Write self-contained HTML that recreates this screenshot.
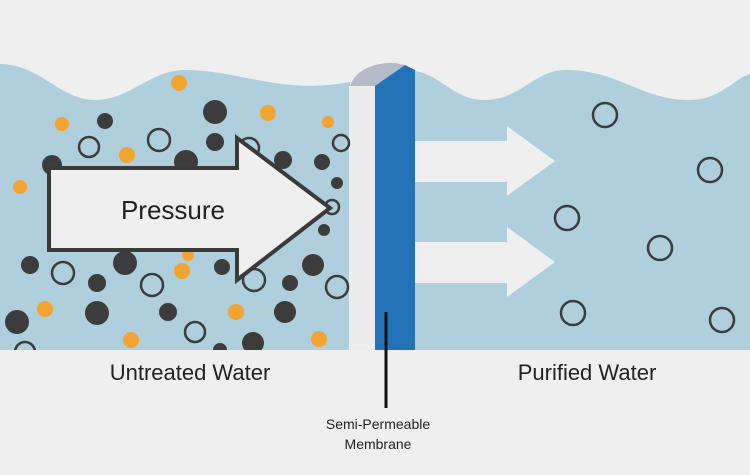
<!DOCTYPE html>
<html><head><style>body{margin:0;background:#efefef}svg{display:block}</style></head><body>
<svg width="750" height="475" viewBox="0 0 750 475" xmlns="http://www.w3.org/2000/svg" font-family="Liberation Sans, sans-serif">
<rect width="750" height="475" fill="#efefef"/>
<path d="M0,64 C40,64 60,100 95,100 C130,100 150,70 185,70 C240,70 280,95 350,82 L350,350 L0,350Z" fill="#aecfdb"/>
<path d="M405,70 C440,70 450,100 485,100 C520,100 535,70 565,70 C620,70 640,100 690,100 C720,100 735,78 750,74 L750,350 L405,350Z" fill="#aecfdb"/>
<g fill="#efefef">
<path d="M415,141 H507 V126 L555,161 L507,196 V182 H415Z"/>
<path d="M415,242 H507 V227 L555,262 L507,297 V283 H415Z"/>
</g>
<path d="M350,86 C355,70 375,62 395,63 L405,65 L375,86Z" fill="#b4bccb"/>
<rect x="349" y="86" width="25" height="264" fill="#ececec"/>
<path d="M375,86 L405,65 L415,70 L415,350 L375,350Z" fill="#2272b8"/>
<g fill="#f2a331">
<circle cx="179" cy="83" r="8"/><circle cx="62" cy="124" r="7"/><circle cx="127" cy="155" r="8"/><circle cx="268" cy="113" r="8"/><circle cx="328" cy="122" r="6"/><circle cx="20" cy="187" r="7"/><circle cx="188" cy="255" r="6"/><circle cx="182" cy="271" r="8"/><circle cx="45" cy="309" r="8"/><circle cx="236" cy="312" r="8"/><circle cx="131" cy="340" r="8"/><circle cx="319" cy="339" r="8"/>
</g>
<g fill="#3c3c3c">
<circle cx="215" cy="112" r="12"/><circle cx="105" cy="121" r="8"/><circle cx="215" cy="142" r="9"/><circle cx="52" cy="165" r="10"/><circle cx="186" cy="162" r="12"/><circle cx="283" cy="160" r="9"/><circle cx="322" cy="162" r="8"/><circle cx="337" cy="183" r="6"/><circle cx="324" cy="230" r="6"/><circle cx="313" cy="265" r="11"/><circle cx="30" cy="265" r="9"/><circle cx="125" cy="263" r="12"/><circle cx="97" cy="283" r="9"/><circle cx="222" cy="267" r="8"/><circle cx="290" cy="283" r="8"/><circle cx="17" cy="322" r="12"/><circle cx="97" cy="313" r="12"/><circle cx="168" cy="312" r="9"/><circle cx="285" cy="312" r="11"/><circle cx="253" cy="343" r="11"/><circle cx="220" cy="350" r="7"/>
</g>
<g fill="none" stroke="#3c3c3c" stroke-width="2.5">
<circle cx="89" cy="147" r="10"/><circle cx="159" cy="140" r="11"/><circle cx="249" cy="148" r="10"/><circle cx="341" cy="143" r="8"/><circle cx="332" cy="207" r="7"/><circle cx="63" cy="273" r="11"/><circle cx="152" cy="285" r="11"/><circle cx="254" cy="280" r="11"/><circle cx="337" cy="287" r="11"/><circle cx="195" cy="332" r="10"/><circle cx="25" cy="352" r="10"/>
<circle cx="605" cy="115" r="12"/><circle cx="710" cy="170" r="12"/><circle cx="567" cy="218" r="12"/><circle cx="660" cy="248" r="12"/><circle cx="573" cy="313" r="12"/><circle cx="722" cy="320" r="12"/>
</g>
<rect x="0" y="350" width="750" height="125" fill="#efefef"/>
<line x1="386" y1="312" x2="386" y2="408" stroke="#111" stroke-width="3"/>
<path d="M49,168 H237 V138 L330,208 L237,280 V250 H49Z" fill="#efefef" stroke="#3a3a3a" stroke-width="4" stroke-linejoin="miter"/>
<text x="173" y="219" font-size="26" text-anchor="middle" fill="#222">Pressure</text>
<text x="190" y="380" font-size="22" text-anchor="middle" fill="#222">Untreated Water</text>
<text x="587" y="380" font-size="22" text-anchor="middle" fill="#222">Purified Water</text>
<text x="378" y="429" font-size="14" text-anchor="middle" fill="#222">Semi-Permeable</text>
<text x="378" y="449" font-size="14" text-anchor="middle" fill="#222">Membrane</text>
</svg>
</body></html>
